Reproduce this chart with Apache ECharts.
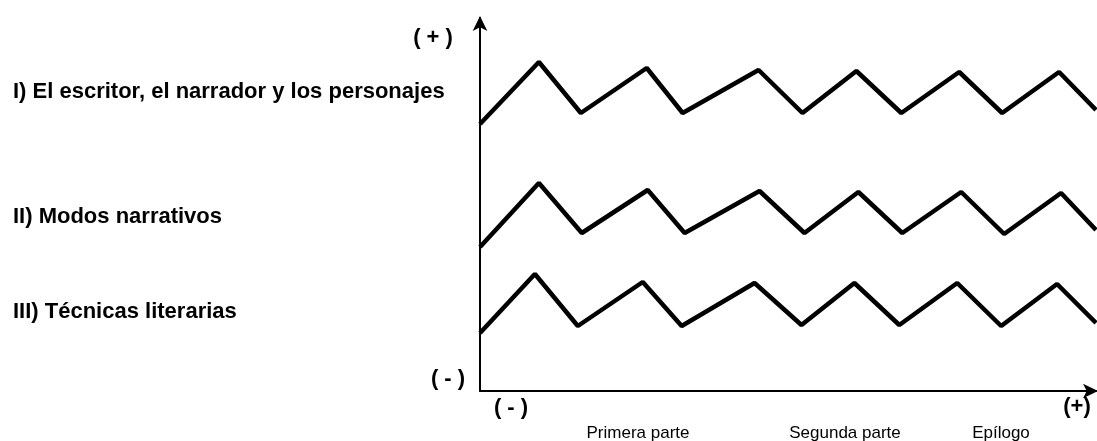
<!DOCTYPE html>
<html>
<head>
<meta charset="utf-8">
<title>Estructura narrativa</title>
<script src="https://cdn.jsdelivr.net/npm/echarts@6/dist/echarts.min.js"></script>
<style>
  html, body { margin: 0; padding: 0; background: #fff; }
  #narrative_chart { width: 1097px; height: 441px; }
</style>
</head>
<body>
<div id="narrative_chart"></div>
<script>
// Data
// ------------------------------

// Row titles (top to bottom)
var rowTitles = [
  "I) El escritor, el narrador y los personajes",
  "II) Modos narrativos",
  "III) Técnicas literarias",
];

// Sections along the horizontal axis
var sectionLabels = ["Primera parte", "Segunda parte", "Epílogo"];

// Axis end labels
var axisSigns = { yTop: "( + )", yBottom: "( - )", xLeft: "( - )", xRight: "(+)" };

// Zig-zag lines, [x, y] pairs
var escritorLine = [
  [0, 267], [59, 329], [101, 278], [167, 323], [203, 278], [279, 321], [323, 278],
  [377, 320], [422, 278], [480, 319], [523, 278], [580, 319], [617, 281],
];
var modosLine = [
  [0, 144], [59, 208], [102, 158], [168, 201], [205, 158], [280, 200], [325, 158],
  [379, 199], [423, 158], [482, 199], [525, 157], [582, 198], [617, 161],
];
var tecnicasLine = [
  [0, 58], [55, 117], [98, 65], [163, 109], [202, 65], [275, 108], [322, 66],
  [375, 108], [420, 66], [478, 108], [522, 65], [578, 107], [617, 68],
];

// Setup module
// ------------------------------

var narrativeChart = (function () {
  var narrativeChartExample = function () {
    if (typeof echarts == "undefined") {
      console.warn("Warning - echarts.min.js is not loaded.");
      return;
    }

    var chart_element = document.getElementById("narrative_chart");
    if (!chart_element) return;

    var chart = echarts.init(chart_element);

    var font = "'Liberation Sans', Arial, sans-serif";

    // Axis line with arrow at the end
    var axisLine = {
      show: true,
      symbol: ["none", "arrow"],
      symbolSize: [11, 15],
      symbolOffset: [0, 2],
      lineStyle: { color: "#000", width: 2 },
    };

    // Series builder
    var zigzag = function (name, data) {
      return {
        name: name,
        type: "line",
        data: data,
        symbol: "none",
        silent: true,
        lineStyle: { color: "#000", width: 4.5 },
      };
    };

    // Text builder
    var label = function (text, x, y, opts) {
      opts = opts || {};
      return {
        type: "text",
        x: x,
        y: y,
        silent: true,
        style: {
          text: text,
          fill: "#000",
          font: (opts.bold === false ? "" : "bold ") + (opts.size || 22) + "px " + font,
          align: opts.align || "left",
          verticalAlign: "middle",
        },
      };
    };

    chart.setOption({
      animation: false,
      textStyle: { fontFamily: font },

      grid: { left: 480, right: 1, top: 18, bottom: 50 },

      xAxis: {
        type: "value",
        min: 0,
        max: 617,
        axisLine: axisLine,
        axisTick: { show: false },
        axisLabel: { show: false },
        splitLine: { show: false },
      },
      yAxis: {
        type: "value",
        min: 0,
        max: 373,
        axisLine: axisLine,
        axisTick: { show: false },
        axisLabel: { show: false },
        splitLine: { show: false },
      },

      graphic: [
        label(rowTitles[0], 13, 92),
        label(rowTitles[1], 13, 217),
        label(rowTitles[2], 13, 312),
        label(axisSigns.yTop, 433, 38, { align: "center" }),
        label(axisSigns.yBottom, 448, 379, { align: "center" }),
        label(axisSigns.xLeft, 511, 408, { align: "center" }),
        label(axisSigns.xRight, 1077, 407, { align: "center" }),
        label(sectionLabels[0], 638, 433, { align: "center", bold: false, size: 17 }),
        label(sectionLabels[1], 845, 433, { align: "center", bold: false, size: 17 }),
        label(sectionLabels[2], 1001, 433, { align: "center", bold: false, size: 17 }),
      ],

      series: [
        zigzag(rowTitles[0], escritorLine),
        zigzag(rowTitles[1], modosLine),
        zigzag(rowTitles[2], tecnicasLine),
      ],
    });

    // Resize
    window.addEventListener("resize", function () {
      chart.resize();
    });
  };

  return {
    init: function () {
      narrativeChartExample();
    },
  };
})();

document.addEventListener("DOMContentLoaded", function () {
  narrativeChart.init();
});
</script>
</body>
</html>
